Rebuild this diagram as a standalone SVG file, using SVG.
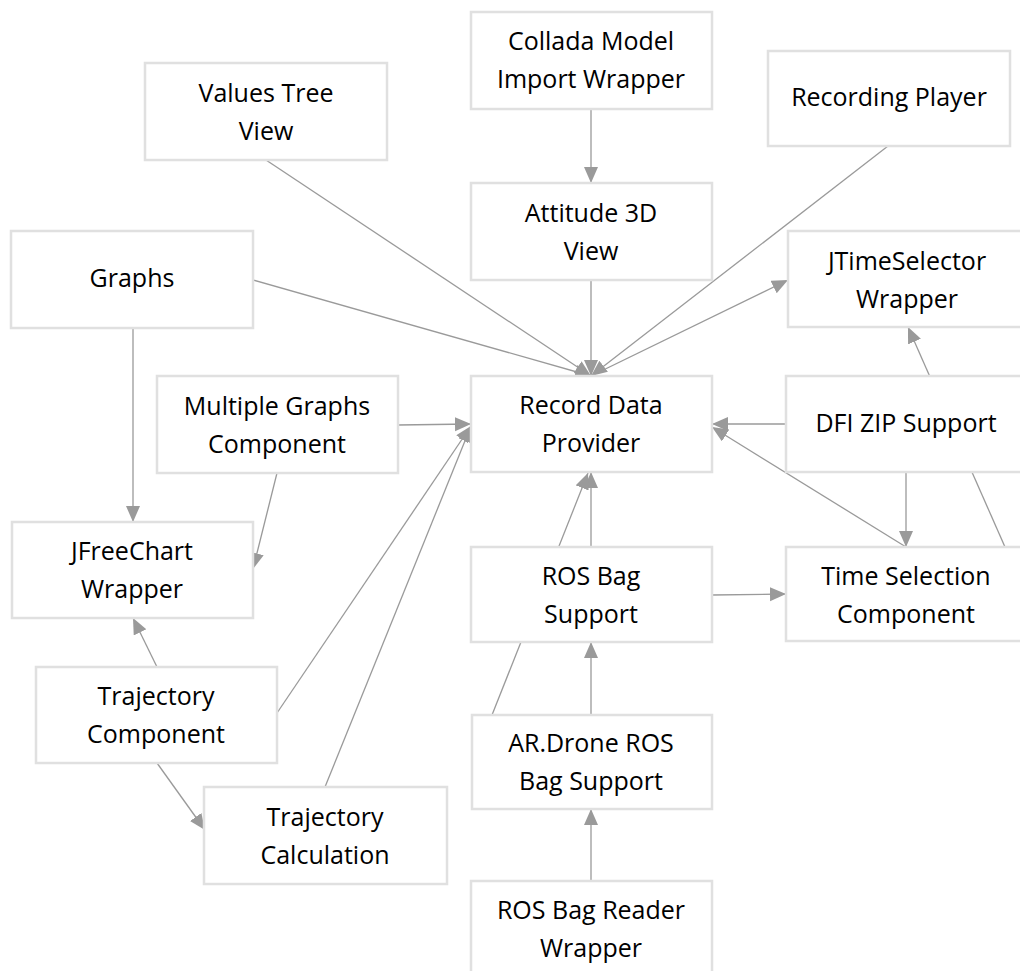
<svg xmlns="http://www.w3.org/2000/svg" width="1020" height="971" viewBox="0 0 1020 971">
  <defs>
    <marker id="arrow" markerUnits="userSpaceOnUse" markerWidth="17" markerHeight="15" refX="16" refY="7" orient="auto">
      <path d="M0,0 L16,7 L0,14 Z" fill="#9a9a9a"/>
    </marker>
    <style>
      .box { fill: #ffffff; stroke: #e0e0e0; stroke-width: 2.5; }
      .lbl { font-family: "Open Sans", "Liberation Sans", sans-serif; font-size: 25px; fill: #000000; text-anchor: middle; }
      .edge { stroke: #9a9a9a; stroke-width: 1.3; fill: none; }
      .arr { marker-end: url(#arrow); }
    </style>
  </defs>
  <rect width="1020" height="971" fill="#ffffff"/>

  <!-- dependency connectors, drawn beneath the boxes -->
  <g id="connectors">
    <line class="edge arr" x1="591" y1="110" x2="591" y2="183"/>
    <line class="edge arr" x1="266" y1="160" x2="591" y2="376"/>
    <line class="edge arr" x1="253" y1="280" x2="591" y2="376"/>
    <line class="edge arr" x1="591" y1="280" x2="591" y2="376"/>
    <line class="edge arr" x1="888" y1="146" x2="591" y2="376"/>
    <line class="edge arr" x1="591" y1="376" x2="788" y2="280"/>
    <line class="edge arr" x1="398" y1="425" x2="471" y2="424"/>
    <line class="edge arr" x1="277" y1="713" x2="471" y2="426"/>
    <line class="edge arr" x1="325" y1="787" x2="471" y2="426"/>
    <line class="edge arr" x1="133" y1="328" x2="133" y2="522"/>
    <line class="edge arr" x1="277" y1="473" x2="253" y2="569"/>
    <line class="edge arr" x1="157" y1="667" x2="133" y2="618"/>
    <line class="edge arr" x1="157" y1="763" x2="205" y2="830"/>
    <line class="edge arr" x1="786" y1="424" x2="712" y2="424"/>
    <line class="edge arr" x1="1005" y1="547" x2="908" y2="327"/>
    <line class="edge arr" x1="906" y1="472" x2="906" y2="547"/>
    <line class="edge arr" x1="906" y1="547" x2="712" y2="427"/>
    <line class="edge arr" x1="712" y1="595" x2="786" y2="594"/>
    <line class="edge arr" x1="591" y1="547" x2="591" y2="472"/>
    <line class="edge arr" x1="492" y1="715" x2="588" y2="473"/>
    <line class="edge arr" x1="591" y1="715" x2="591" y2="642"/>
    <line class="edge arr" x1="591" y1="881" x2="591" y2="809"/>
  </g>

  <g id="values-tree-view">
    <rect class="box" x="145" y="63" width="242" height="97"/>
    <text class="lbl" x="266" y="102">Values Tree</text>
    <text class="lbl" x="266" y="140">View</text>
  </g>
  <g id="collada-model-import-wrapper">
    <rect class="box" x="471" y="12" width="241" height="97"/>
    <text class="lbl" x="591" y="50">Collada Model</text>
    <text class="lbl" x="591" y="88">Import Wrapper</text>
  </g>
  <g id="recording-player">
    <rect class="box" x="768" y="51" width="242" height="95"/>
    <text class="lbl" x="889" y="106">Recording Player</text>
  </g>
  <g id="attitude-3d-view">
    <rect class="box" x="471" y="183" width="241" height="97"/>
    <text class="lbl" x="591" y="222">Attitude 3D</text>
    <text class="lbl" x="591" y="260">View</text>
  </g>
  <g id="graphs">
    <rect class="box" x="11" y="231" width="242" height="97"/>
    <text class="lbl" x="132" y="287">Graphs</text>
  </g>
  <g id="jtimeselector-wrapper">
    <rect class="box" x="788" y="231" width="240" height="96"/>
    <text class="lbl" x="907" y="270">JTimeSelector</text>
    <text class="lbl" x="907" y="308">Wrapper</text>
  </g>
  <g id="multiple-graphs-component">
    <rect class="box" x="157" y="376" width="241" height="97"/>
    <text class="lbl" x="277" y="415">Multiple Graphs</text>
    <text class="lbl" x="277" y="453">Component</text>
  </g>
  <g id="record-data-provider">
    <rect class="box" x="471" y="376" width="241" height="96"/>
    <text class="lbl" x="591" y="414">Record Data</text>
    <text class="lbl" x="591" y="452">Provider</text>
  </g>
  <g id="dfi-zip-support">
    <rect class="box" x="786" y="376" width="240" height="96"/>
    <text class="lbl" x="906" y="432">DFI ZIP Support</text>
  </g>
  <g id="jfreechart-wrapper">
    <rect class="box" x="12" y="522" width="241" height="96"/>
    <text class="lbl" x="132" y="560">JFreeChart</text>
    <text class="lbl" x="132" y="598">Wrapper</text>
  </g>
  <g id="ros-bag-support">
    <rect class="box" x="471" y="547" width="241" height="95"/>
    <text class="lbl" x="591" y="585">ROS Bag</text>
    <text class="lbl" x="591" y="623">Support</text>
  </g>
  <g id="time-selection-component">
    <rect class="box" x="786" y="547" width="240" height="94"/>
    <text class="lbl" x="906" y="585">Time Selection</text>
    <text class="lbl" x="906" y="623">Component</text>
  </g>
  <g id="trajectory-component">
    <rect class="box" x="36" y="667" width="241" height="96"/>
    <text class="lbl" x="156" y="705">Trajectory</text>
    <text class="lbl" x="156" y="743">Component</text>
  </g>
  <g id="ar-drone-ros-bag-support">
    <rect class="box" x="472" y="715" width="240" height="94"/>
    <text class="lbl" x="591" y="752">AR.Drone ROS</text>
    <text class="lbl" x="591" y="790">Bag Support</text>
  </g>
  <g id="trajectory-calculation">
    <rect class="box" x="204" y="787" width="243" height="97"/>
    <text class="lbl" x="325" y="826">Trajectory</text>
    <text class="lbl" x="325" y="864">Calculation</text>
  </g>
  <g id="ros-bag-reader-wrapper">
    <rect class="box" x="471" y="881" width="241" height="97"/>
    <text class="lbl" x="591" y="919">ROS Bag Reader</text>
    <text class="lbl" x="591" y="957">Wrapper</text>
  </g>
</svg>
